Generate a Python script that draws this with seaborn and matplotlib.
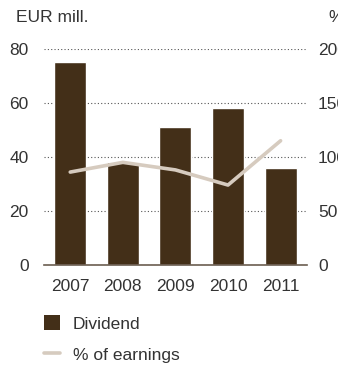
import matplotlib
matplotlib.use("Agg")
import matplotlib.pyplot as plt
import seaborn as sns
import numpy as np
import pandas as pd
from matplotlib.patches import Patch
from matplotlib.lines import Line2D

years = ["2007", "2008", "2009", "2010", "2011"]
dividend = [75, 38, 51, 58, 36]
pct_earnings = [86, 95, 88, 74, 115]
left_ticks = [0, 20, 40, 60, 80]
right_ticks = [0, 50, 100, 150, 200]

bar_color = "#432f18"
line_color = "#d6cbbf"
text_color = "#333333"
grid_color = "#555555"

sns.set_theme(style="white")
plt.rcParams["font.family"] = ["Liberation Sans", "DejaVu Sans"]

df = pd.DataFrame({"year": years, "dividend": dividend, "pct": pct_earnings})
df["pos"] = np.arange(len(years))

fig = plt.figure(figsize=(3.38, 3.65), dpi=100)
ax = fig.add_axes([0.130, 0.274, 0.778, 0.592])

sns.barplot(data=df, x="year", y="dividend", color=bar_color, width=0.61,
            saturation=1, ax=ax, zorder=2)
ax.set_ylim(0, 80)
ax.set_xlim(-0.5, len(years) - 0.5)
ax.set_yticks(left_ticks)
ax.yaxis.grid(True, linestyle=(0, (1, 2)), color=grid_color, linewidth=0.8, zorder=0)
ax.set_axisbelow(True)
ax.set_xlabel("")
ax.set_ylabel("")
for s in ["top", "right", "left"]:
    ax.spines[s].set_visible(False)
ax.spines["bottom"].set_color("#6b5d50")
ax.spines["bottom"].set_linewidth(1.2)
ax.tick_params(axis="both", length=0, labelsize=12.5, colors=text_color)
ax.tick_params(axis="y", pad=11)
ax.tick_params(axis="x", pad=10)

ax2 = ax.twinx()
sns.lineplot(data=df, x="pos", y="pct", color=line_color, linewidth=2.6, ax=ax2,
             zorder=3)
ax2.set_ylim(0, 200)
ax2.set_yticks(right_ticks)
ax2.set_xlim(-0.5, len(years) - 0.5)
ax2.set_ylabel("")
ax2.set_xlabel("")
for s in ["top", "right", "left", "bottom"]:
    ax2.spines[s].set_visible(False)
ax2.tick_params(axis="y", length=0, labelsize=12.5, colors=text_color, pad=8)

fig.text(0.047, 0.953, "EUR mill.", fontsize=12.5, color=text_color, va="center")
fig.text(0.972, 0.953, "%", fontsize=12.5, color=text_color, va="center")

handles = [Patch(facecolor=bar_color, edgecolor="none"),
           Line2D([0], [0], color=line_color, linewidth=2.6)]
fig.legend(handles, ["Dividend", "% of earnings"], loc="upper left",
           bbox_to_anchor=(0.11, 0.155), frameon=False, fontsize=12.5,
           labelcolor=text_color, handlelength=0.9, handleheight=0.9,
           handletextpad=0.75, labelspacing=0.85, borderaxespad=0)

fig.savefig("out.png", dpi=100)
